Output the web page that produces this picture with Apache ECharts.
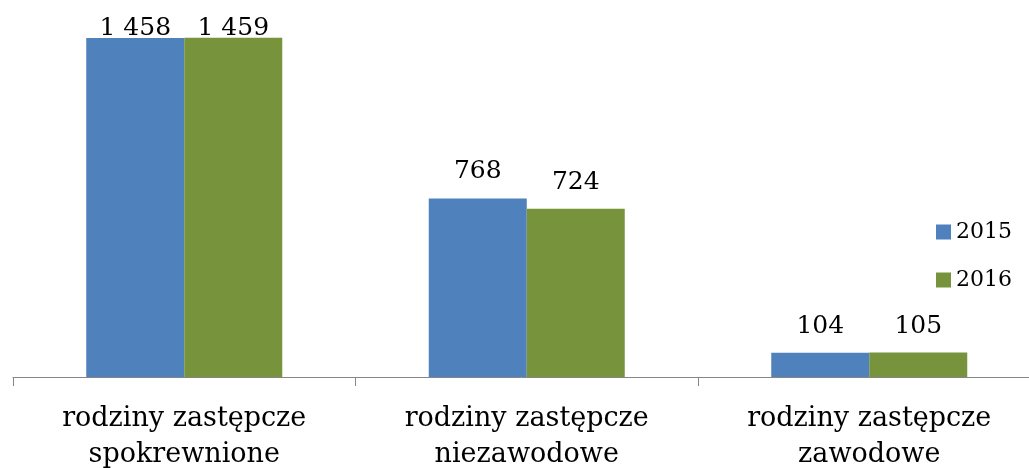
<!DOCTYPE html>
<html><head><meta charset="utf-8">
<script src="https://cdn.jsdelivr.net/npm/echarts@6/dist/echarts.min.js"></script>
<style>html,body{margin:0;padding:0;background:#fff}#c{width:1029px;height:468px}</style>
</head><body><div id="c"></div>
<script>
const categories = ['rodziny zastępcze\nspokrewnione', 'rodziny zastępcze\nniezawodowe', 'rodziny zastępcze\nzawodowe'];
const seriesNames = ['2015', '2016'];
const values2015 = [1458, 768, 104];
const values2016 = [1459, 724, 105];
const colors = ['#4F81BD', '#77933C'];
const FONT = 'DejaVu Serif';

function fmt(v){ return String(v).replace(/\B(?=(\d{3})+(?!\d))/g, ' '); }
function mkData(arr){
  return arr.map((v,i)=> i===0 ? {value:v, label:{offset:[0,17]}} : v);
}
const chart = echarts.init(document.getElementById('c'), null, {renderer:'canvas'});
const labelCfg = {show:true, position:'top', distance:14, fontFamily:FONT, fontSize:25, color:'#000', formatter:p=>fmt(p.value)};
chart.setOption({
  animation:false,
  backgroundColor:'#fff',
  grid:{left:13, width:1027.5, top:5, bottom:91, containLabel:false, outerBoundsMode:'none'},
  legend:{
    orient:'vertical', right:12, top:216, itemWidth:15, itemHeight:15, itemGap:26,
    icon:'rect',
    textStyle:{fontFamily:FONT, fontSize:22, color:'#000'},
    data:seriesNames
  },
  xAxis:{
    type:'category', data:categories,
    axisLine:{lineStyle:{color:'#868686', width:1}},
    axisTick:{show:true, length:9, lineStyle:{color:'#868686'}},
    axisLabel:{fontFamily:FONT, fontSize:27, color:'#000', lineHeight:36, margin:24, interval:0}
  },
  yAxis:{type:'value', min:0, max:1600, show:false, splitLine:{show:false}},
  series:[
    {name:seriesNames[0], type:'bar', data:mkData(values2015), barWidth:98, barGap:'0%',
     itemStyle:{color:colors[0]}, label:labelCfg},
    {name:seriesNames[1], type:'bar', data:mkData(values2016), barWidth:98, barGap:'0%',
     itemStyle:{color:colors[1]}, label:labelCfg}
  ]
});
</script></body></html>
